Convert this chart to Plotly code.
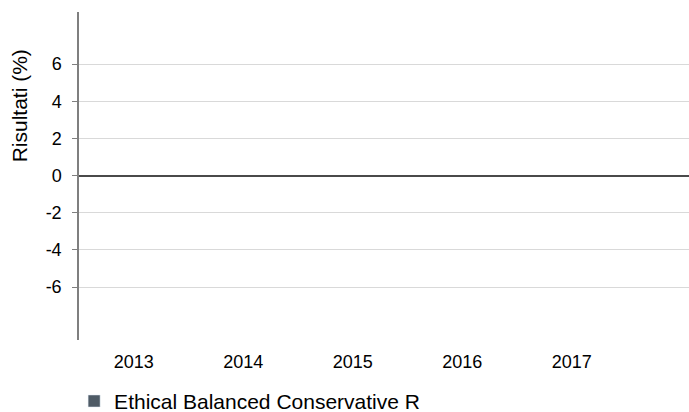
import plotly.graph_objects as go

# anni e rendimenti (nessun dato visibile nel grafico)
years = ["2013", "2014", "2015", "2016", "2017"]
returns = [None, None, None, None, None]
series_name = "Ethical Balanced Conservative R"
y_title = "Risultati (%)"
y_ticks = [-6, -4, -2, 0, 2, 4, 6]
y_labels = ["-6", "-4", "-2", "0", "2", "4", "6"]

fig = go.Figure()
fig.add_trace(go.Bar(x=years, y=returns, name=series_name,
                     marker_color="#4f5b66", showlegend=True))

fig.update_layout(
    width=689, height=412,
    margin=dict(l=79, r=0, t=12, b=72, autoexpand=False),
    paper_bgcolor="white", plot_bgcolor="white",
    font=dict(family="Liberation Sans, Arial", color="#000000", size=18),
    showlegend=True,
    legend=dict(orientation="h", x=-0.008, y=-0.187, xanchor="left", yanchor="middle",
                font=dict(size=21)),
)
fig.update_xaxes(type="category", range=[-0.5, 5.07], showgrid=False,
                 showline=False, ticks="", ticklabelstandoff=9, automargin=False)
fig.update_yaxes(range=[-8.85, 8.8], tickvals=y_ticks, ticktext=y_labels,
                 showgrid=True, gridcolor="#d9d9d9", gridwidth=1,
                 zeroline=True, zerolinecolor="#4a4a4a", zerolinewidth=1.5,
                 showline=True, linecolor="#7f7f7f", linewidth=1.5,
                 ticks="outside", ticklen=5, tickcolor="#7f7f7f",
                 ticklabelstandoff=7, automargin=False)

# titolo asse y, spostato verso l'alto come nell'originale
fig.add_annotation(text=y_title, textangle=-90, showarrow=False,
                   xref="paper", yref="paper", x=-0.098, y=0.713,
                   xanchor="center", yanchor="middle", font=dict(size=21))

# togli il margine del body così la figura parte da (0, 0)
fig.write_html("out.html", config={"displayModeBar": False},
               post_script="document.body.style.margin='0';")
